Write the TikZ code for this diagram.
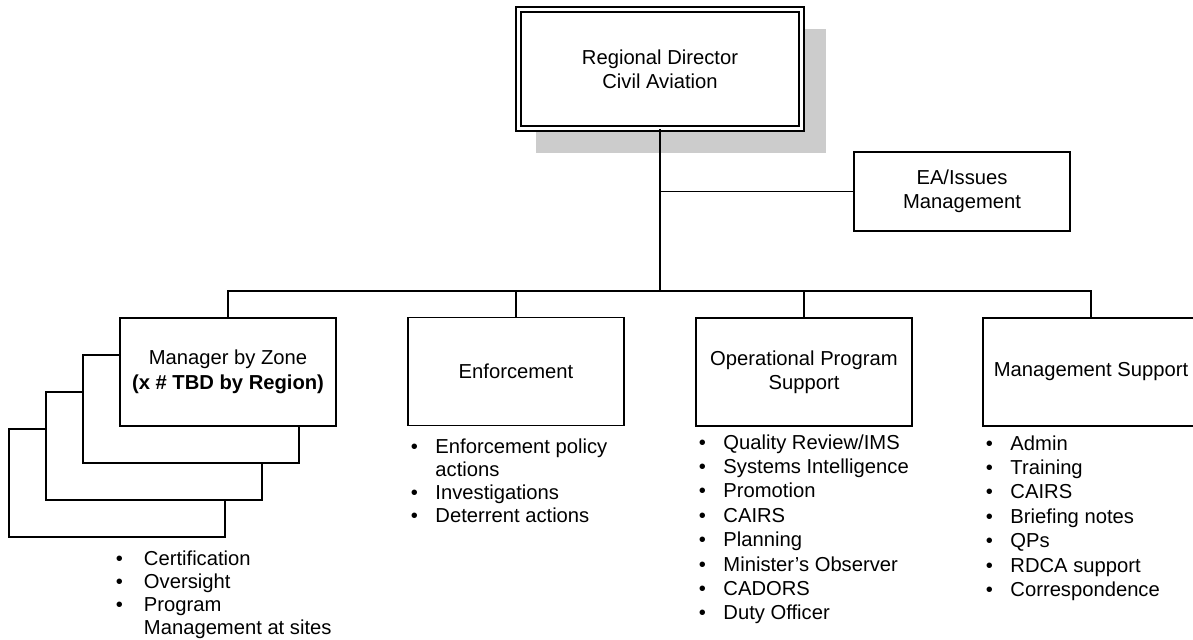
\documentclass[tikz,border=0pt]{standalone}
\usepackage{fontspec}
\setmainfont{Liberation Sans}
\usetikzlibrary{backgrounds}

\begin{document}
\begin{tikzpicture}[
    x=0.02cm, y=-0.02cm,
    line width=1pt,
    font=\fontsize{11.5}{13.9}\selectfont,
    unit/.style={draw, fill=white, align=center, inner sep=2pt,
                 minimum width=4.32cm, minimum height=2.16cm},
    duties/.style={anchor=base west, inner sep=0pt, align=left},
]

\useasboundingbox (0,0) rectangle (1193,639);
\clip (0,0) rectangle (1193,639);

% ---- director with shadow ----
\node[draw, double, double distance=2pt, line width=0.75pt, fill=white,
      align=center, minimum width=5.66cm, minimum height=2.38cm]
  (rd) at (660,69) {Regional Director\\Civil Aviation};
\begin{scope}[on background layer]
  \fill[black!20] ([shift={(18,24)}]rd.south west)
    rectangle ([shift={(24,20)}]rd.north east);
\end{scope}

% ---- staff box ----
\node[unit, minimum height=1.58cm] (ea) at (962,191.5) {EA/Issues\\Management};

% ---- units (zone managers stacked) ----
\foreach \k in {3,2,1}
  \node[unit] (mz\k) at ({228-37*\k},{372+37*\k}) {};
\node[unit] (mz)  at (228,372)   {Manager by Zone\\\textbf{(x \# TBD by Region)}};
\node[unit] (enf) at (516,371.5) {Enforcement};
\node[unit] (ops) at (804,372)   {Operational Program\\Support};
\node[unit] (ms)  at (1091,372)  {Management Support};

% ---- connectors ----
\coordinate (bus) at (660,291);
\draw (rd.south) -- (bus);
\draw (rd.south |- ea.west) -- (ea.west);
\draw (mz.north) -- (mz.north |- bus) -- (ms.north |- bus) -- (ms.north);
\draw (enf.north) -- (enf.north |- bus);
\draw (ops.north) -- (ops.north |- bus);

% ---- duty lists ----
\node[duties, font=\fontsize{11.5}{13.2}\selectfont] (mzlist) at (115,565)
  {\begin{tabular}[t]{@{}p{16pt}@{}l@{}}
   \textbullet & Certification\\
   \textbullet & Oversight\\
   \textbullet & Program\\
               & Management at sites
   \end{tabular}};
\node[duties, font=\fontsize{11.5}{13.2}\selectfont] (enflist) at (410,453)
  {\begin{tabular}[t]{@{}p{14pt}@{}l@{}}
   \textbullet & Enforcement policy\\
               & actions\\
   \textbullet & Investigations\\
   \textbullet & Deterrent actions
   \end{tabular}};
\node[duties] (opslist) at (698,449)
  {\begin{tabular}[t]{@{}p{14pt}@{}l@{}}
   \textbullet & Quality Review/IMS\\
   \textbullet & Systems Intelligence\\
   \textbullet & Promotion\\
   \textbullet & CAIRS\\
   \textbullet & Planning\\
   \textbullet & Minister’s Observer\\
   \textbullet & CADORS\\
   \textbullet & Duty Officer
   \end{tabular}};
\node[duties] (mslist) at (985,450)
  {\begin{tabular}[t]{@{}p{14pt}@{}l@{}}
   \textbullet & Admin\\
   \textbullet & Training\\
   \textbullet & CAIRS\\
   \textbullet & Briefing notes\\
   \textbullet & QPs\\
   \textbullet & RDCA support\\
   \textbullet & Correspondence
   \end{tabular}};

\end{tikzpicture}
\end{document}
